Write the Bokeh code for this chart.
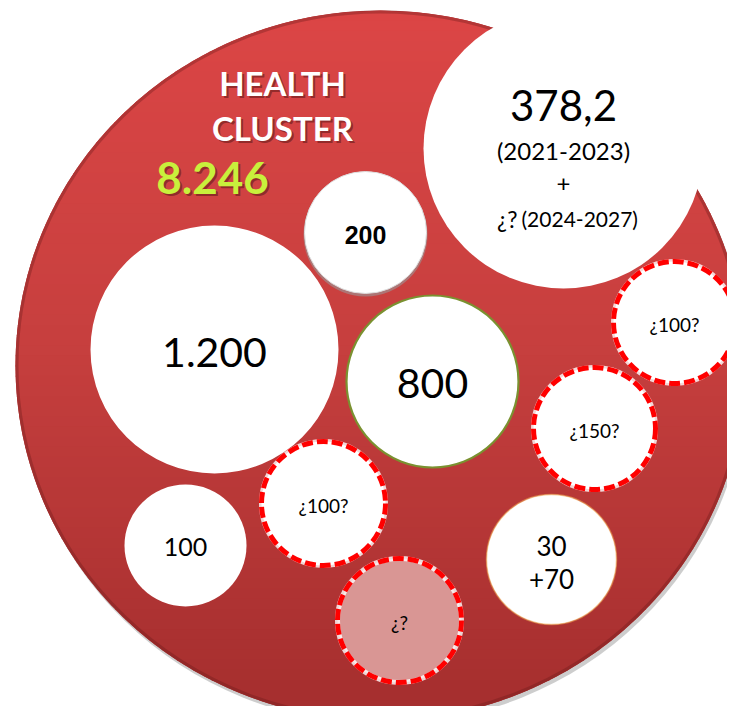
import numpy as np
from bokeh.plotting import figure
from bokeh.models import Range1d
from bokeh.core.properties import value
from bokeh.embed import file_html
from bokeh.resources import INLINE

# ---------------- data (texts / values) ----------------
cluster_title = ["HEALTH", "CLUSTER"]
cluster_total = ["8.246"]
main_value = ["378,2"]
main_period = ["(2021-2023)"]
main_plus = ["+"]
main_future_q = ["¿?"]
main_future_period = ["(2024-2027)"]

solid_labels = ["1.200", "800", "100"]
dashed_labels = ["¿100?", "¿150?", "¿100?", "¿?"]
shadow_label = ["200"]
combo_labels = ["30", "+70"]

# ---------------- layout (screen px) ----------------
W, H = 727, 706
X0, Y0 = 0, 0

big = dict(cx=380, cy=365, rx=365, ry=355)
main_circle = dict(x=[563], y=[148], r=[140])

solid_x = [214, 432, 185]
solid_y = [349, 381, 545]
solid_r = [124, 86, 61]
solid_line = ["white", "#7a9130", "white"]
solid_lw = [0, 2.2, 0]
solid_ty = [352, 383, 546]
solid_fs = ["41px", "41px", "25px"]

dash_x = [674, 594, 323, 399]
dash_y = [322, 428, 503, 620]
dash_r = [61, 61, 62, 62]
dash_fill = ["white", "white", "white", "#d99694"]
dash_ty = [324, 430, 505, 622]

sh_x, sh_y, sh_r = [365], [232], [61]
combo_x, combo_y, combo_r = [551], [559], [65]
combo_ty = [545, 578]

p = figure(width=W, height=H, output_backend="svg", toolbar_location=None,
           x_range=Range1d(X0, X0 + W), y_range=Range1d(Y0 + H, Y0),
           min_border=0, background_fill_color="white", border_fill_color="white")
p.axis.visible = False
p.grid.visible = False
p.outline_line_color = None

# ---------- big red disc with vertical gradient ----------
cx, cy, rx, ry = big["cx"], big["cy"], big["rx"], big["ry"]
p.ellipse(x=cx + 2, y=cy + 4, width=2 * rx, height=2 * ry,
          fill_color="#707070", fill_alpha=0.35, line_color=None)
p.ellipse(x=cx, y=cy, width=2 * rx, height=2 * ry,
          fill_color="#a83232", line_color=None)

stops_t = [0.0, 0.45, 1.0]
stops_c = [(220, 70, 70), (200, 64, 63), (164, 46, 46)]
nb = 70
edges = np.linspace(cy - ry, cy + ry, nb + 1)
band_xs, band_ys, band_col = [], [], []
for i in range(nb):
    y_a = edges[i]
    y_b = min(edges[i + 1] + 1.0, cy + ry)
    yy = np.linspace(y_a, y_b, 8)
    half = rx * np.sqrt(np.clip(1 - ((yy - cy) / ry) ** 2, 0, None))
    band_xs.append(list(np.concatenate([cx + half, (cx - half)[::-1]])))
    band_ys.append(list(np.concatenate([yy, yy[::-1]])))
    t = (0.5 * (y_a + y_b) - (cy - ry)) / (2 * ry)
    rgb = [int(np.interp(t, stops_t, [c[k] for c in stops_c])) for k in range(3)]
    band_col.append("#%02x%02x%02x" % tuple(rgb))
p.patches(xs=band_xs, ys=band_ys, fill_color=band_col, line_color=None)
p.ellipse(x=cx, y=cy, width=2 * rx - 3, height=2 * ry - 3,
          fill_color=None, line_color="#6a1a1a", line_alpha=0.35, line_width=3)

# ---------- main white circle ----------
p.circle(x=main_circle["x"], y=main_circle["y"], radius=main_circle["r"],
         fill_color="white", line_color=None)

# ---------- solid white bubbles ----------
p.circle(x=solid_x, y=solid_y, radius=solid_r, fill_color="white",
         line_color=solid_line, line_width=solid_lw)
p.circle(x=combo_x, y=combo_y, radius=combo_r, fill_color="white",
         line_color="#f0a850", line_alpha=0.55, line_width=1.5)
# 200 bubble with soft shadow
p.circle(x=[sh_x[0]], y=[sh_y[0] + 2], radius=[sh_r[0] + 1], fill_color="#9a9a9a",
         fill_alpha=0.6, line_color=None)
p.circle(x=sh_x, y=sh_y, radius=sh_r, fill_color="white",
         line_color="#dddddd", line_width=1)

# ---------- dashed bubbles ----------
p.circle(x=dash_x, y=dash_y, radius=dash_r, fill_color=dash_fill,
         line_color="white", line_alpha=0.8, line_width=5)
p.circle(x=dash_x, y=dash_y, radius=dash_r, fill_color=None,
         line_color="#ff0000", line_width=5, line_dash="11 4")

# ---------- texts ----------
font = value("Lato")
p.text(x=[284, 284], y=[84, 129], text=cluster_title, text_font=font,
       text_font_style="bold", text_font_size="33px", text_color="#5a1515",
       text_alpha=0.55, text_align="center", text_baseline="middle")
p.text(x=[282, 282], y=[82, 127], text=cluster_title, text_font=font,
       text_font_style="bold", text_font_size="33px", text_color="white",
       text_align="center", text_baseline="middle")
p.text(x=[214], y=[179], text=cluster_total, text_font=font,
       text_font_style="bold", text_font_size="44px", text_color="#5a1515",
       text_alpha=0.55, text_align="center", text_baseline="middle")
p.text(x=[212], y=[177], text=cluster_total, text_font=font,
       text_font_style="bold", text_font_size="44px", text_color="#c8f03c",
       text_align="center", text_baseline="middle")

p.text(x=[563], y=[105], text=main_value, text_font=font, text_font_size="42px",
       text_color="black", text_align="center", text_baseline="middle")
p.text(x=[563], y=[150], text=main_period, text_font=font, text_font_size="24px",
       text_color="black", text_align="center", text_baseline="middle")
p.text(x=[563], y=[183], text=main_plus, text_font=font, text_font_size="24px",
       text_color="black", text_align="center", text_baseline="middle")
p.text(x=[517], y=[218], text=main_future_q, text_font=font, text_font_size="23px",
       text_color="black", text_align="right", text_baseline="middle")
p.text(x=[521], y=[218], text=main_future_period, text_font=font, text_font_size="21px",
       text_color="black", text_align="left", text_baseline="middle")

for lx, ly, lt, fs in zip(solid_x, solid_ty, solid_labels, solid_fs):
    p.text(x=[lx], y=[ly], text=[lt], text_font=font, text_font_size=fs,
           text_color="black", text_align="center", text_baseline="middle")
p.text(x=dash_x, y=dash_ty, text=dashed_labels, text_font=font, text_font_size="19px",
       text_color="black", text_align="center", text_baseline="middle")
p.text(x=sh_x, y=[234], text=shadow_label, text_font=value("Liberation Sans"),
       text_font_style="bold", text_font_size="25px", text_color="black",
       text_align="center", text_baseline="middle")
p.text(x=[combo_x[0]] * 2, y=combo_ty, text=combo_labels, text_font=font,
       text_font_size="26px", text_color="black", text_align="center",
       text_baseline="middle")

open("out.html", "w").write(file_html(p, INLINE))
